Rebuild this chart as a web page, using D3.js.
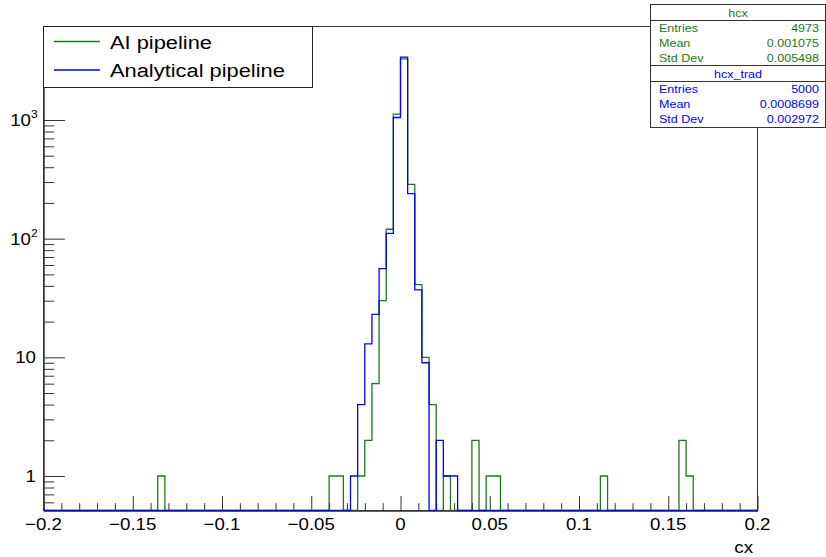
<!DOCTYPE html>
<html>
<head>
<meta charset="utf-8">
<script src="https://cdn.jsdelivr.net/npm/d3@7"></script>
<style>
  body { margin: 0; background: #fff; }
  svg { display: block; }
</style>
</head>
<body>
<script>
// Histogram binning: 100 equal bins of cx over [-0.2, 0.2]
const binLow = -0.2;
const binHigh = 0.2;
const nBins = 100;

// AI pipeline (hcx): lower bin edges and contents of the non-empty bins
const aiEdges  = [-0.136, -0.040, -0.036, -0.024, -0.020, -0.016, -0.012, -0.008, -0.004, 0.000,
                  0.004, 0.008, 0.012, 0.016, 0.024, 0.040, 0.048, 0.052, 0.112, 0.156, 0.160];
const aiCounts = [1, 1, 1, 1, 2, 6, 30, 120, 1120, 3270,
                  287, 41, 10, 4, 1, 2, 1, 1, 1, 2, 1];

// Analytical pipeline (hcx_trad)
const anEdges  = [-0.028, -0.024, -0.020, -0.016, -0.012, -0.008, -0.004, 0.000,
                  0.004, 0.008, 0.012, 0.020, 0.024, 0.028];
const anCounts = [1, 4, 13, 23, 56, 111, 1050, 3380,
                  240, 37, 9, 2, 1, 1];

// Axis ticks
const xMajorTicks = [-0.2, -0.15, -0.1, -0.05, 0, 0.05, 0.1, 0.15, 0.2];
const xTickLabels = ["\u22120.2", "\u22120.15", "\u22120.1", "\u22120.05", "0", "0.05", "0.1", "0.15", "0.2"];
const xMinorTicks = d3.range(-20, 21).filter(i => i % 5 !== 0).map(i => i / 100);
const yMajorTicks = [1, 10, 100, 1000];
const yTickBase   = ["1", "10", "10", "10"];
const yTickExp    = ["", "", "2", "3"];
const yMinorTicks = [0.6, 0.7, 0.8, 0.9,
                     2, 3, 4, 5, 6, 7, 8, 9,
                     20, 30, 40, 50, 60, 70, 80, 90,
                     200, 300, 400, 500, 600, 700, 800, 900,
                     2000, 3000, 4000, 5000, 6000];
const yRangeMin = 0.512;
const yRangeMax = 6135;

// Legend and statistics boxes
const legendLabels = ["AI pipeline", "Analytical pipeline"];
const statNames    = ["Entries", "Mean", "Std Dev"];
const aiStats      = ["4973", "0.001075", "0.005498"];
const anStats      = ["5000", "0.0008699", "0.002972"];
const histNames    = ["hcx", "hcx_trad"];

const W = 826, H = 557;
const green = "#1a7a1a";
const blue = "#0000ff";
const axisColor = "#333";
const FONT = "'Liberation Sans', Arial, Helvetica, sans-serif";

const svg = d3.select("body").append("svg")
  .attr("width", W).attr("height", H)
  .attr("viewBox", `0 0 ${W} ${H}`);

const frame = { left: 43.5, right: 757.5, top: 26.5, bottom: 510.5 };

const x = d3.scaleLinear().domain([binLow, binHigh]).range([frame.left, frame.right]);
const y = d3.scaleLog().domain([yRangeMin, yRangeMax]).range([frame.bottom, frame.top]);

const binWidth = (binHigh - binLow) / nBins;
function fillBins(edges, counts) {
  const arr = new Array(nBins).fill(0);
  edges.forEach((e, i) => {
    arr[Math.round((e - binLow) / binWidth)] = counts[i];
  });
  return arr;
}
const aiBins = fillBins(aiEdges, aiCounts);
const anBins = fillBins(anEdges, anCounts);

function stepPath(bins) {
  const pts = [[x(binLow), frame.bottom]];
  bins.forEach((c, i) => {
    const yv = c > 0 ? y(c) : frame.bottom;
    pts.push([x(binLow + i * binWidth), yv]);
    pts.push([x(binLow + (i + 1) * binWidth), yv]);
  });
  pts.push([x(binHigh), frame.bottom]);
  return d3.line()(pts);
}

// Text drawn slightly widened horizontally
function label(parent, tx, ty, str, size, anchor, color, sx = 1.13) {
  return parent.append("text")
    .attr("transform", `translate(${tx},${ty}) scale(${sx},1)`)
    .attr("font-family", FONT)
    .attr("font-size", size)
    .attr("text-anchor", anchor)
    .attr("fill", color)
    .text(str);
}

svg.append("defs").append("clipPath").attr("id", "frameClip")
  .append("rect")
  .attr("x", frame.left).attr("y", frame.top)
  .attr("width", frame.right - frame.left).attr("height", frame.bottom - frame.top + 1);

// Frame
svg.append("rect")
  .attr("x", frame.left).attr("y", frame.top)
  .attr("width", frame.right - frame.left).attr("height", frame.bottom - frame.top)
  .attr("fill", "none").attr("stroke", axisColor).attr("stroke-width", 1);

// First histogram (AI pipeline)
svg.append("path")
  .attr("d", stepPath(aiBins))
  .attr("clip-path", "url(#frameClip)")
  .attr("fill", "none").attr("stroke", green).attr("stroke-width", 1.3);

// Axes
const xMajor = svg.append("g").attr("transform", `translate(0,${frame.bottom})`)
  .call(d3.axisBottom(x).tickValues(xMajorTicks).tickSize(-14.5).tickSizeOuter(0).tickFormat(""));
const xMinor = svg.append("g").attr("transform", `translate(0,${frame.bottom})`)
  .call(d3.axisBottom(x).tickValues(xMinorTicks).tickSize(-7.3).tickSizeOuter(0).tickFormat(""));
const yMajor = svg.append("g").attr("transform", `translate(${frame.left},0)`)
  .call(d3.axisLeft(y).tickValues(yMajorTicks).tickSize(-21.4).tickSizeOuter(0).tickFormat(""));
const yMinor = svg.append("g").attr("transform", `translate(${frame.left},0)`)
  .call(d3.axisLeft(y).tickValues(yMinorTicks).tickSize(-10.7).tickSizeOuter(0).tickFormat(""));
[xMajor, xMinor, yMajor, yMinor].forEach(g => {
  g.selectAll("path.domain").attr("stroke", axisColor).attr("stroke-width", 1);
  g.selectAll(".tick line").attr("stroke", axisColor).attr("stroke-width", 1);
});

// Tick labels
xMajorTicks.forEach((v, i) => {
  label(svg, x(v), 530, xTickLabels[i], 17, "middle", "#000", 1.1);
});
yMajorTicks.forEach((v, i) => {
  const yy = y(v) + 6;
  if (yTickExp[i]) {
    label(svg, 31, yy, yTickBase[i], 17, "end", "#000", 1.1);
    label(svg, 31, yy - 8, yTickExp[i], 11, "start", "#000", 1.1);
  } else {
    label(svg, 36, yy, yTickBase[i], 17, "end", "#000", 1.1);
  }
});

// Axis title
label(svg, 753, 553, "cx", 17, "end", "#000", 1.1);

// Second histogram (Analytical pipeline)
svg.append("path")
  .attr("d", stepPath(anBins))
  .attr("clip-path", "url(#frameClip)")
  .attr("fill", "none").attr("stroke", blue).attr("stroke-width", 1.3);

// Legend
const leg = svg.append("g");
leg.append("rect")
  .attr("x", 43.5).attr("y", 26.5).attr("width", 269).attr("height", 61)
  .attr("fill", "#fff").attr("stroke", "#222").attr("stroke-width", 1);
[green, blue].forEach((c, i) => {
  const ly = 41.5 + i * 28.5;
  leg.append("line").attr("x1", 54).attr("x2", 100).attr("y1", ly).attr("y2", ly)
    .attr("stroke", c).attr("stroke-width", 1.3);
  label(leg, 110, ly + 7, legendLabels[i], 19, "start", "#000", 1.15);
});

// Statistics boxes
function statsBox(top, bottom, name, values, color) {
  const g = svg.append("g");
  g.append("rect")
    .attr("x", 650.5).attr("y", top).attr("width", 175).attr("height", bottom - top)
    .attr("fill", "#fff").attr("stroke", "#333").attr("stroke-width", 1);
  g.append("line").attr("x1", 650.5).attr("x2", 825.5)
    .attr("y1", top + 16).attr("y2", top + 16)
    .attr("stroke", "#333").attr("stroke-width", 1);
  label(g, 738, top + 12.5, name, 11.2, "middle", color, 1.12);
  statNames.forEach((s, i) => {
    const by = top + 27.5 + i * 15.2;
    label(g, 659, by, s, 11.2, "start", color, 1.12);
    label(g, 819, by, values[i], 11.2, "end", color, 1.12);
  });
}
statsBox(4.5, 65.5, histNames[0], aiStats, green);
statsBox(65.5, 127.5, histNames[1], anStats, blue);
</script>
</body>
</html>
